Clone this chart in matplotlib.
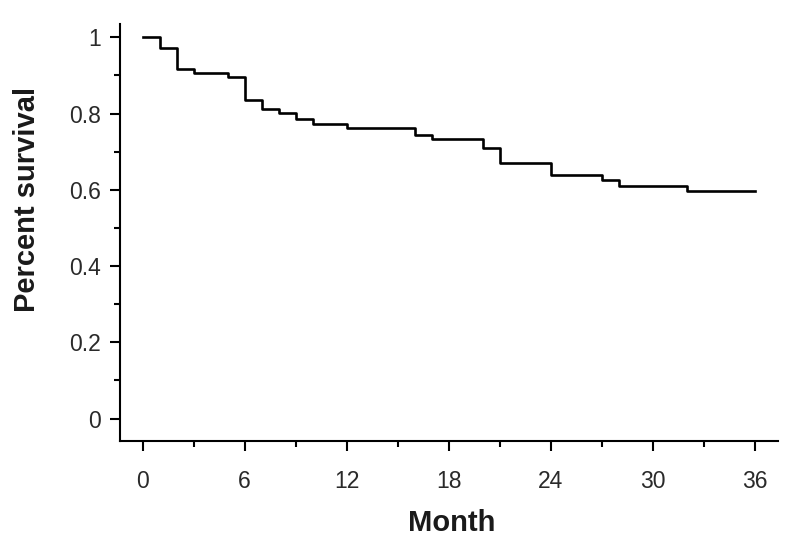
import matplotlib
matplotlib.use('Agg')
import matplotlib.pyplot as plt
from matplotlib.ticker import MultipleLocator

plt.rcParams['font.family'] = ['Liberation Sans', 'DejaVu Sans']

# Kaplan-Meier estimate (month, survival after the step)
months = [0, 1, 2, 3, 5, 6, 7, 8, 9, 10, 12, 16, 17, 20, 21, 24, 27, 28, 32, 36]
survival = [1.0, 0.971, 0.918, 0.907, 0.896, 0.837, 0.813, 0.802, 0.785, 0.773,
            0.762, 0.745, 0.733, 0.709, 0.670, 0.640, 0.627, 0.611, 0.598, 0.598]

x_ticks = [0, 6, 12, 18, 24, 30, 36]
y_ticks = [0, 0.2, 0.4, 0.6, 0.8, 1]
y_tick_labels = ['0', '0.2', '0.4', '0.6', '0.8', '1']

fig = plt.figure(figsize=(7.93, 5.47), dpi=100)
ax = fig.add_axes([0.1513, 0.1943, 0.8294, 0.7618])

ax.step(months, survival, where='post', color='black', linewidth=1.9)

ax.set_xlim(-1.33, 37.35)
ax.set_ylim(-0.058, 1.035)
ax.set_xticks(x_ticks)
ax.set_yticks(y_ticks)
ax.set_yticklabels(y_tick_labels)
ax.xaxis.set_minor_locator(MultipleLocator(3))
ax.yaxis.set_minor_locator(MultipleLocator(0.1))

# only the left and bottom axes, ticks pointing out
for side in ['top', 'right']:
    ax.spines[side].set_visible(False)
for side in ['left', 'bottom']:
    ax.spines[side].set_linewidth(1.5)
ax.tick_params(axis='both', which='major', length=7, width=1.5,
               labelsize=16.5, labelcolor='#2a2a2a')
ax.tick_params(axis='both', which='minor', length=4, width=1.5)
ax.tick_params(axis='x', which='major', pad=14)
ax.tick_params(axis='y', which='major', pad=7)

ax.set_xlabel('Month', fontsize=21, fontweight='bold', color='#1a1a1a')
ax.set_ylabel('Percent survival', fontsize=21, fontweight='bold', color='#1a1a1a')
ax.xaxis.set_label_coords(0.505, -0.165)
ax.yaxis.set_label_coords(-0.12, 0.58)

fig.savefig('out.png', dpi=100)
